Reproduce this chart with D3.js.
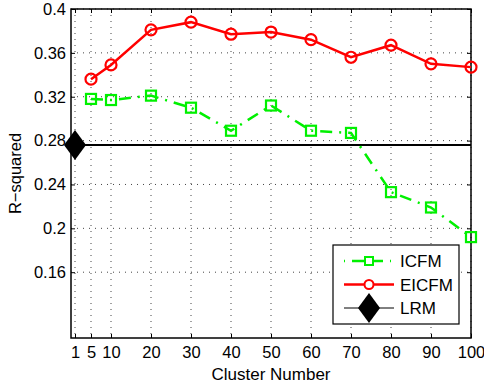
<!DOCTYPE html>
<html>
<head>
<meta charset="utf-8">
<script src="https://cdn.jsdelivr.net/npm/d3@7"></script>
<style>
  body { margin: 0; background: #fff; }
  svg { font-family: "Liberation Sans", Arial, sans-serif; }
</style>
</head>
<body>
<div id="chart"></div>
<script>
// cluster numbers on the x axis
const clusters = [5, 10, 20, 30, 40, 50, 60, 70, 80, 90, 100];
const xTicks = [1, 5, 10, 20, 30, 40, 50, 60, 70, 80, 90, 100];
const yTicks = [0.16, 0.2, 0.24, 0.28, 0.32, 0.36, 0.4];

// R-squared values
const icfm  = [0.318, 0.317, 0.321, 0.310, 0.289, 0.312, 0.289, 0.287, 0.233, 0.219, 0.192];
const eicfm = [0.336, 0.349, 0.381, 0.388, 0.377, 0.379, 0.372, 0.356, 0.367, 0.350, 0.347];
const lrmX = 1;
const lrmValue = 0.276;

const W = 484, H = 388;
const margin = {top: 9, right: 13, bottom: 50, left: 71};
const width = W - margin.left - margin.right;
const height = H - margin.top - margin.bottom;

const svg = d3.select("#chart").append("svg")
    .attr("width", W)
    .attr("height", H);

const g = svg.append("g")
    .attr("transform", "translate(" + margin.left + "," + margin.top + ")");

const x = d3.scaleLinear().domain([0, 100]).range([0, width]);
const y = d3.scaleLinear().domain([0.1, 0.4]).range([height, 0]);

// dotted grid
g.append("g")
    .selectAll("line")
    .data(xTicks)
    .join("line")
    .attr("x1", d => x(d)).attr("x2", d => x(d))
    .attr("y1", 0).attr("y2", height)
    .attr("stroke", "#444")
    .attr("stroke-width", 1)
    .attr("stroke-dasharray", "1,5");

g.append("g")
    .selectAll("line")
    .data(yTicks)
    .join("line")
    .attr("x1", 0).attr("x2", width)
    .attr("y1", d => y(d)).attr("y2", d => y(d))
    .attr("stroke", "#444")
    .attr("stroke-width", 1)
    .attr("stroke-dasharray", "1,5");

// axes (ticks pointing inward, like matlab)
const fmt = d => String(d);
g.append("g")
    .attr("transform", "translate(0," + height + ")")
    .call(d3.axisBottom(x).tickValues(xTicks).tickSizeInner(-4).tickSizeOuter(0).tickPadding(8).tickFormat(fmt))
    .call(a => a.select(".domain").remove());
g.append("g")
    .call(d3.axisTop(x).tickValues(xTicks).tickSizeInner(-4).tickSizeOuter(0).tickFormat(""))
    .call(a => a.select(".domain").remove());
g.append("g")
    .call(d3.axisLeft(y).tickValues(yTicks).tickSizeInner(-4).tickSizeOuter(0).tickPadding(5).tickFormat(fmt))
    .call(a => a.select(".domain").remove());
g.append("g")
    .attr("transform", "translate(" + width + ",0)")
    .call(d3.axisRight(y).tickValues(yTicks).tickSizeInner(-4).tickSizeOuter(0).tickFormat(""))
    .call(a => a.select(".domain").remove());

g.selectAll(".tick text")
    .style("font-size", "16.5px")
    .attr("fill", "#000");
g.selectAll(".tick line").attr("stroke", "#000");

// frame
g.append("rect")
    .attr("width", width).attr("height", height)
    .attr("fill", "none")
    .attr("stroke", "#000")
    .attr("stroke-width", 1.5);

// LRM horizontal line
g.append("line")
    .attr("x1", 0).attr("x2", width)
    .attr("y1", y(lrmValue)).attr("y2", y(lrmValue))
    .attr("stroke", "#000")
    .attr("stroke-width", 2.2);

const green = "#00f000", red = "#ff0000";

const line = d3.line()
    .x(d => x(d[0]))
    .y(d => y(d[1]));

const icfmData = clusters.map((c, i) => [c, icfm[i]]);
const eicfmData = clusters.map((c, i) => [c, eicfm[i]]);

g.append("path")
    .datum(icfmData)
    .attr("fill", "none")
    .attr("stroke", green)
    .attr("stroke-width", 2.5)
    .attr("stroke-dasharray", "12,7,2,7")
    .attr("d", line);

g.selectAll(".sq")
    .data(icfmData)
    .join("rect")
    .attr("x", d => x(d[0]) - 5)
    .attr("y", d => y(d[1]) - 5)
    .attr("width", 10).attr("height", 10)
    .attr("fill", "none")
    .attr("stroke", green)
    .attr("stroke-width", 2.2);

g.append("path")
    .datum(eicfmData)
    .attr("fill", "none")
    .attr("stroke", red)
    .attr("stroke-width", 2.5)
    .attr("d", line);

g.selectAll(".circ")
    .data(eicfmData)
    .join("circle")
    .attr("cx", d => x(d[0]))
    .attr("cy", d => y(d[1]))
    .attr("r", 5.5)
    .attr("fill", "none")
    .attr("stroke", red)
    .attr("stroke-width", 2.2);

// LRM diamond
const diamond = (cx, cy, w, h) =>
    "M" + cx + "," + (cy - h / 2) + "L" + (cx + w / 2) + "," + cy +
    "L" + cx + "," + (cy + h / 2) + "L" + (cx - w / 2) + "," + cy + "Z";

g.append("path")
    .attr("d", diamond(x(lrmX), y(lrmValue), 22, 30))
    .attr("fill", "#000");

// axis titles
svg.append("text")
    .attr("x", margin.left + width / 2)
    .attr("y", 379.5)
    .attr("text-anchor", "middle")
    .style("font-size", "17px")
    .text("Cluster Number");

svg.append("text")
    .attr("transform", "translate(21," + (margin.top + y(0.25)) + ") rotate(-90)")
    .attr("text-anchor", "middle")
    .style("font-size", "16.5px")
    .text("R\u2212squared");

// legend
const lg = svg.append("g").attr("transform", "translate(333,245)");
lg.append("rect")
    .attr("width", 126).attr("height", 79)
    .attr("fill", "#fff")
    .attr("stroke", "#000")
    .attr("stroke-width", 1.2);

const rows = [
    {name: "ICFM", y: 16},
    {name: "EICFM", y: 39.5},
    {name: "LRM", y: 63}
];

// ICFM entry
lg.append("line")
    .attr("x1", 11).attr("x2", 61)
    .attr("y1", rows[0].y).attr("y2", rows[0].y)
    .attr("stroke", green).attr("stroke-width", 2.5)
    .attr("stroke-dasharray", "1,7,12,7,12,7");
lg.append("rect")
    .attr("x", 32).attr("y", rows[0].y - 4)
    .attr("width", 8).attr("height", 8)
    .attr("fill", "#fff")
    .attr("stroke", green).attr("stroke-width", 2);

// EICFM entry
lg.append("line")
    .attr("x1", 11).attr("x2", 61)
    .attr("y1", rows[1].y).attr("y2", rows[1].y)
    .attr("stroke", red).attr("stroke-width", 2.5);
lg.append("circle")
    .attr("cx", 36).attr("cy", rows[1].y).attr("r", 4.5)
    .attr("fill", "#fff")
    .attr("stroke", red).attr("stroke-width", 2);

// LRM entry
lg.append("line")
    .attr("x1", 11).attr("x2", 61)
    .attr("y1", rows[2].y).attr("y2", rows[2].y)
    .attr("stroke", "#000").attr("stroke-width", 1);
lg.append("path")
    .attr("d", diamond(36, rows[2].y, 22, 30))
    .attr("fill", "#000");

lg.selectAll(".lt")
    .data(rows)
    .join("text")
    .attr("x", 67)
    .attr("y", d => d.y + 6)
    .style("font-size", "17px")
    .text(d => d.name);
</script>
</body>
</html>
